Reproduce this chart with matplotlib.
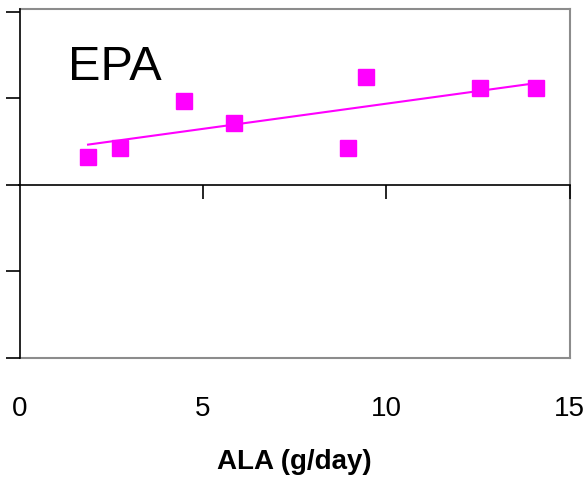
import numpy as np
import matplotlib.pyplot as plt

plt.rcParams['font.family'] = ['Liberation Sans', 'DejaVu Sans']

### data (y in arbitrary units, no y labels shown)
ala = [1.87, 2.74, 4.49, 5.85, 8.96, 9.45, 12.56, 14.09]
epa = [0.32, 0.42, 0.97, 0.71, 0.42, 1.25, 1.12, 1.12]
xticks = [0, 5, 10, 15]
yticks = [-2, -1, 0, 1, 2]

magenta = '#FF00FF'
grey = '#8c8c8c'

fig = plt.figure(figsize=(5.84, 4.82), dpi=100)
ax = fig.add_axes([19.5/584, 1 - 358/482, 550/584, 349/482])

ax.plot(ala, epa, 's', color=magenta, ms=11.5, mec=magenta)

### linear trend line
k, b = np.polyfit(ala, epa, 1)
xl = np.array([min(ala), max(ala)])
ax.plot(xl, k*xl + b, '-', color=magenta, lw=1.5)

ax.set_xlim(0, 15)
ax.set_ylim(-2, 2.03)

### box
for s in ['top', 'right', 'bottom']:
    ax.spines[s].set_color(grey)
    ax.spines[s].set_linewidth(1.5)
    ax.spines[s].set_zorder(1)
ax.spines['left'].set_color('black')
ax.spines['left'].set_linewidth(1.2)

ax.set_yticks(yticks)
ax.tick_params(axis='y', direction='out', length=10, width=1.2, labelleft=False)

ax.set_xticks(xticks)
ax.tick_params(axis='x', length=0, pad=27, labelsize=20)
ax.set_xlabel('ALA (g/day)', fontsize=20, fontweight='bold', labelpad=20)

### zero line with ticks
zx = ax.secondary_xaxis(0, transform=ax.transData)
zx.set_zorder(5)
for s in ['top', 'bottom']:
    zx.spines[s].set_color('black')
    zx.spines[s].set_linewidth(1.2)
zx.set_xticks(xticks[1:])
zx.tick_params(bottom=True, top=False, direction='out', length=10, width=1.2,
               labelbottom=False, labeltop=False)

ax.text(0.088, 0.797, 'EPA', transform=ax.transAxes, fontsize=35, va='baseline')

fig.savefig('out.png', dpi=100)
